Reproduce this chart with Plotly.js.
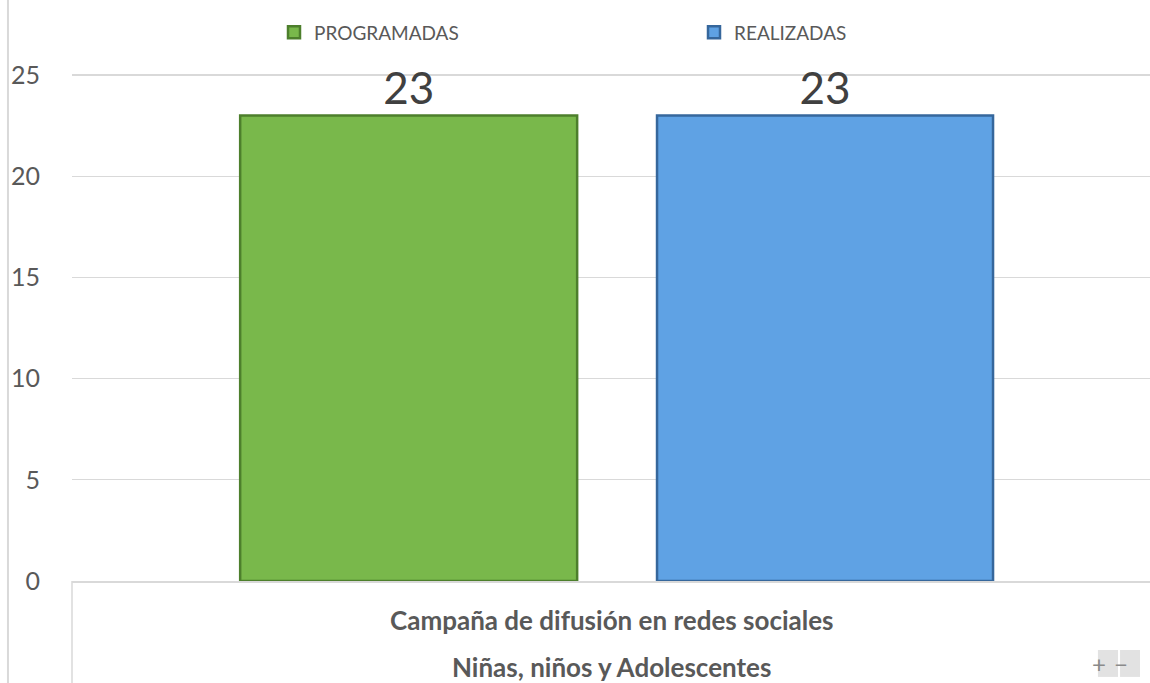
<!DOCTYPE html>
<html>
<head>
<meta charset="utf-8">
<script src="https://cdn.plot.ly/plotly-3.0.1.min.js"></script>
<style>html,body{margin:0;padding:0;background:#fff;}#chart{width:1150px;height:683px;}</style>
</head>
<body>
<div id="chart"></div>
<script>
const categories = ["Campaña de difusión en redes sociales"];
const groupLabels = ["Niñas, niños y Adolescentes"];
const seriesNames = ["PROGRAMADAS", "REALIZADAS"];
const programadas = [23];
const realizadas = [23];
const yTicks = [0, 5, 10, 15, 20, 25];

const font = "Lato, 'Open Sans', sans-serif";
const textColor = "#595959";

const traces = [
  {
    type: "bar", name: seriesNames[0], x: categories, y: programadas,
    offset: -0.344, width: 0.3126, legend: "legend",
    marker: {color: "#79b84b", line: {color: "#4d7f2c", width: 2.5}},
    text: programadas.map(String), textposition: "outside",
    textfont: {size: 44, color: "#404040", family: font},
    cliponaxis: false, hoverinfo: "skip"
  },
  {
    type: "bar", name: seriesNames[1], x: categories, y: realizadas,
    offset: 0.0427, width: 0.3117, legend: "legend2",
    marker: {color: "#5fa2e4", line: {color: "#36679c", width: 2.5}},
    text: realizadas.map(String), textposition: "outside",
    textfont: {size: 44, color: "#404040", family: font},
    cliponaxis: false, hoverinfo: "skip"
  }
];

const legendCommon = {
  orientation: "h", yanchor: "middle", xanchor: "left",
  font: {size: 19, color: textColor, family: font},
  bgcolor: "rgba(0,0,0,0)", itemwidth: 30
};

const layout = {
  width: 1150, height: 683,
  margin: {l: 72, r: 0, t: 20, b: 102},
  paper_bgcolor: "#ffffff", plot_bgcolor: "#ffffff",
  font: {family: font, color: textColor},
  barmode: "overlay",
  showlegend: true,
  legend: Object.assign({}, legendCommon, {x: (274 - 72) / 1078, y: 0.978}),
  legend2: Object.assign({}, legendCommon, {x: (694 - 72) / 1078, y: 0.978}),
  xaxis: {
    type: "category", range: [-0.5, 0.5], showticklabels: false,
    showgrid: false, zeroline: false, showline: true, linecolor: "#d9d9d9", linewidth: 1.5,
    ticks: "", fixedrange: true
  },
  yaxis: {
    range: [0, 27.72], tickvals: yTicks, ticktext: yTicks.map(String),
    showgrid: true, gridcolor: "#d9d9d9", gridwidth: 1.2,
    zeroline: false, showline: false, ticks: "",
    ticklabelstandoff: 31,
    tickfont: {size: 25, color: textColor, family: font}, fixedrange: true
  },
  shapes: [
    {type: "line", xref: "paper", yref: "paper", x0: -0.0594, x1: -0.0594, y0: -0.19, y1: 1.05,
     line: {color: "#d9d9d9", width: 2}},
    {type: "line", xref: "paper", yref: "paper", x0: 0, x1: 0, y0: -0.19, y1: 0,
     line: {color: "#d9d9d9", width: 1.5}},
    {type: "rect", xref: "paper", yref: "paper", x0: 0.9517, x1: 0.9703, y0: -0.171, y1: -0.123,
     line: {width: 0}, fillcolor: "#e2e2e2", layer: "above"},
    {type: "rect", xref: "paper", yref: "paper", x0: 0.9722, x1: 0.9907, y0: -0.171, y1: -0.123,
     line: {width: 0}, fillcolor: "#e2e2e2", layer: "above"}
  ],
  annotations: [
    {xref: "paper", yref: "paper", x: 0.5, y: -0.0695, text: "<b>" + categories[0] + "</b>",
     showarrow: false, yanchor: "middle", font: {size: 26, color: textColor, family: font}},
    {xref: "paper", yref: "paper", x: 0.5, y: -0.153, text: "<b>" + groupLabels[0] + "</b>",
     showarrow: false, yanchor: "middle", font: {size: 26, color: textColor, family: font}},
    {xref: "paper", yref: "paper", x: 0.961, y: -0.147, text: "+", yanchor: "middle",
     showarrow: false, font: {size: 24, color: "#8a8a8a", family: font}},
    {xref: "paper", yref: "paper", x: 0.9815, y: -0.147, text: "−", yanchor: "middle",
     showarrow: false, font: {size: 24, color: "#8a8a8a", family: font}}
  ]
};

Plotly.newPlot("chart", traces, layout, {displayModeBar: false, staticPlot: true});
</script>
</body>
</html>
